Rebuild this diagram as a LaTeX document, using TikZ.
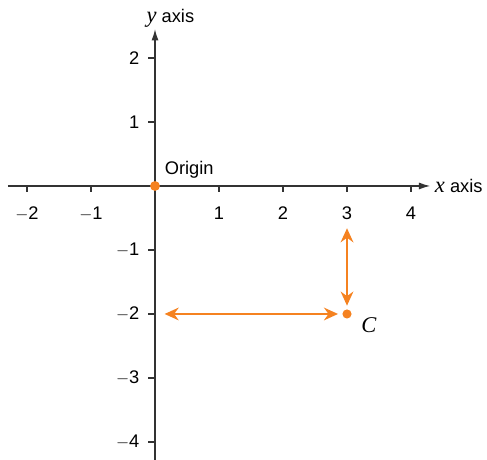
\documentclass[tikz,border=0pt]{standalone}
\usepackage{fontspec}
\setmainfont{Liberation Sans}
\newfontfamily\mathserif{Liberation Serif}
\usetikzlibrary{arrows.meta}
\definecolor{orng}{HTML}{F58220}
\definecolor{axisgray}{HTML}{333333}
\newcommand{\itvar}[1]{{\mathserif\itshape\fontsize{16}{18}\selectfont #1}}
\begin{document}
\begin{tikzpicture}[x=1.6cm,y=1.6cm,
  axisline/.style={draw=axisgray,line width=0.9pt},
  tick/.style={draw=axisgray,line width=0.8pt},
  lbl/.style={font=\fontsize{13}{15}\selectfont,text=black,inner sep=0pt},
  orarrow/.style={draw=orng,line width=2pt,{Stealth[length=10pt,width=9pt]}-{Stealth[length=10pt,width=9pt]}},
  dot/.style={circle,fill=orng,inner sep=0pt,minimum size=7pt}]
\useasboundingbox (-2.422,-4.281) rectangle (5.1875,2.906);
% axes
\coordinate (xl) at (-2.30,0);
\coordinate (xr) at (4.30,0);
\coordinate (yb) at (0,-4.281);
\coordinate (yt) at (0,2.45);
\draw[axisline,-{Latex[length=8pt,width=5pt]}] (xl) -- (xr);
\draw[axisline,-{Latex[length=8pt,width=5pt]}] (yb) -- (yt);
\node[lbl,anchor=base west] (xlab) at (4.37,-0.10) {\itvar{x} axis};
\node[lbl,anchor=base] (ylab) at (0.24,2.55) {\itvar{y} axis};
% x ticks
\foreach \i/\t in {-2/$-$2,-1/$-$1,1/1,2/2,3/3,4/4}{
  \draw[tick] (\i,0) -- (\i,-0.1);
  \node[lbl] (xt\i) at (\i,-0.43) {\t};
}
% y ticks
\foreach \i/\t in {2/2,1/1,-1/$-$1,-2/$-$2,-3/$-$3,-4/$-$4}{
  \draw[tick] (0,\i) -- (-0.11,\i);
  \node[lbl,anchor=east] (yt\i) at (-0.24,\i) {\t};
}
% origin
\node[dot] (O) at (0,0) {};
\node[lbl,anchor=south west] (olab) at (0.15,0.12) {Origin};
% point C
\node[dot,minimum size=6.5pt] (C) at (3,-2) {};
\node[lbl,anchor=west] (clab) at (3.22,-2.17) {\itvar{C}};
\coordinate (hL) at (0.15,-2);
\coordinate (hR) at (2.86,-2);
\coordinate (vT) at (3,-0.66);
\coordinate (vB) at (3,-1.87);
\draw[orarrow] (hL) -- (hR);
\draw[orarrow] (vT) -- (vB);
\end{tikzpicture}
\end{document}
